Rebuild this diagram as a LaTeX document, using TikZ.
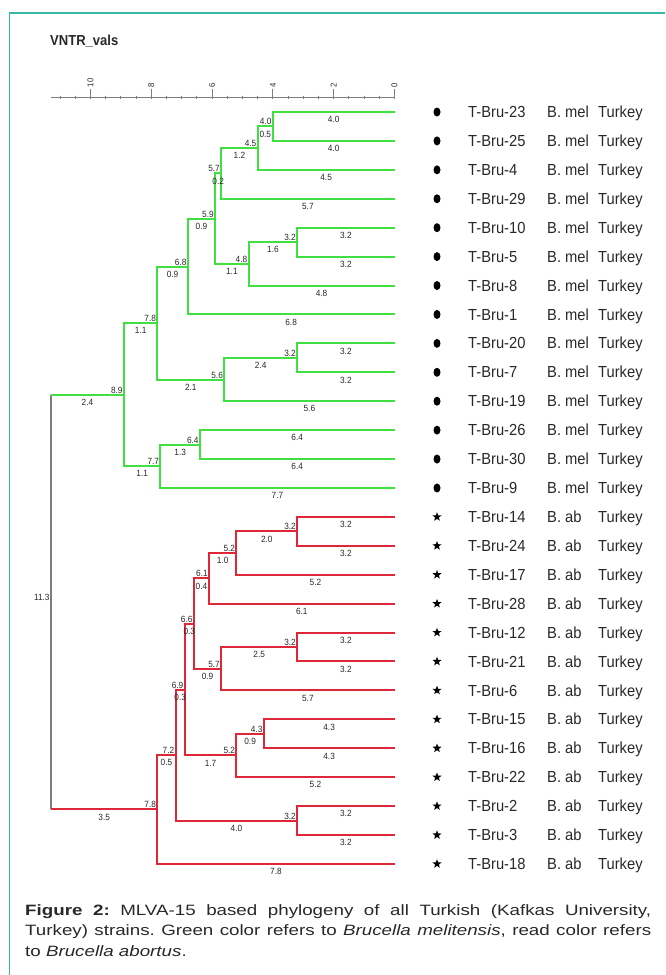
\documentclass[tikz,border=0pt]{standalone}
\usepackage{fontspec}
\setmainfont{Liberation Sans}
\newfontfamily\treefont[FakeStretch=0.92]{Liberation Sans}
\newfontfamily\titlefont[FakeStretch=0.9]{Liberation Sans}
\newfontfamily\capfont[FakeStretch=1.25]{Liberation Sans}
\usetikzlibrary{shapes.geometric}
\definecolor{clgreen}{RGB}{64,224,64}
\definecolor{clred}{RGB}{222,40,56}
\definecolor{rootgrey}{RGB}{125,125,125}
\definecolor{frameteal}{RGB}{56,184,164}
\definecolor{inkgrey}{RGB}{40,40,40}
% distance scale: 0 at x=394.5, 30.4 units per VNTR step; leaves 28.92 apart
\newcommand\hpos[1]{394.5-30.4*#1}
\newcommand\vpos[1]{112+28.92*#1}
\tikzset{
  gline/.style={draw=clgreen, line width=2pt},
  rline/.style={draw=clred, line width=2pt},
  rootline/.style={draw=rootgrey, line width=2pt},
  axisline/.style={draw=rootgrey, line width=0.9pt},
  blabel/.style={pos=0.75, anchor=north, yshift=-3.5pt, inner sep=0pt,
    text=inkgrey, font=\treefont\fontsize{9}{10}\selectfont},
  hlabel/.style={anchor=south east, inner sep=1.2pt,
    text=inkgrey, font=\treefont\fontsize{9}{10}\selectfont},
  ticklabel/.style={rotate=90, anchor=west, inner sep=0.5pt,
    text=inkgrey, font=\treefont\fontsize{8.5}{10}\selectfont},
  leaftext/.style={anchor=base west, inner sep=0pt, text=inkgrey,
    font=\treefont\fontsize{16}{18}\selectfont},
  dotmark/.style={ellipse, fill=black, draw=none, inner sep=0pt,
    minimum width=7pt, minimum height=9pt},
  starmark/.style={star, star points=5, star point ratio=2.4, fill=black,
    draw=none, inner sep=0pt, minimum size=9.5pt},
  capline/.style={anchor=base west, inner sep=0pt, text=inkgrey,
    font=\capfont\fontsize{15}{21}\selectfont\frenchspacing}
}
\begin{document}
\begin{tikzpicture}[x=1pt,y=-1pt]
\useasboundingbox (0,0) rectangle (665,975);

% frame
\draw[frameteal, line width=1.4pt] (9.3,975) -- (9.3,13) -- (665,13);

% title
\node[anchor=base west, inner sep=0pt, text=inkgrey] (title) at (50,45)
  {\titlefont\bfseries\fontsize{14.5}{16}\selectfont VNTR\_vals};

% distance axis
\coordinate (axL) at (50.5,97.5);
\coordinate (axR) at (394.5,97.5);
\draw[axisline] (axL) -- (axR);
\foreach \v in {0,0.5,...,11}
  \draw[axisline] ({\hpos{\v}},95.5) -- ({\hpos{\v}},99);
\foreach \v in {0,2,...,10} {
  \draw[axisline] ({\hpos{\v}},88.5) -- ({\hpos{\v}},97.5);
  \node[ticklabel] at ({\hpos{\v}},88) {\v};
}

% leaf tips
\foreach \i in {0,...,26}
  \coordinate (l\i) at (394.5,{\vpos{\i}});

% internal nodes: height / vertical position in leaf units
\foreach \n/\h/\k in {A/4.0/0.5, B/4.5/1.25, C/5.7/2.125, D/3.2/4.5,
    E/4.8/5.25, F/5.9/3.6875, G/6.8/5.34375, I/3.2/8.5, J/5.6/9.25,
    H/7.8/7.296875, K/6.4/11.5, L/7.7/12.25, M/8.9/9.7734375,
    N/3.2/14.5, O/5.2/15.25, P/6.1/16.125, Q/3.2/18.5, R/5.7/19.25,
    S/6.6/17.6875, T/4.3/21.5, U/5.2/22.25, V/6.9/19.96875, W/3.2/24.5,
    X/7.2/22.234375, Y/7.8/24.1171875, root/11.3/16.9453125}
  \coordinate (\n) at ({\hpos{\h}},{\vpos{\k}});

% root
\draw[rootline] (root|-M) -- (root|-Y);
\draw[gline] (root|-M) -- (M) node[blabel, pos=0.5] {2.4};
\draw[rline] (root|-Y) -- (Y) node[blabel, pos=0.5] {3.5};
\node[hlabel, anchor=east] at ([yshift=5pt]root) {11.3};

% B. melitensis clade
\foreach \p/\c/\t in {A/l0/4.0, A/l1/4.0, B/A/0.5, B/l2/4.5, C/B/1.2,
    C/l3/5.7, D/l4/3.2, D/l5/3.2, E/D/1.6, E/l6/4.8, F/C/0.2, F/E/1.1,
    G/F/0.9, G/l7/6.8, I/l8/3.2, I/l9/3.2, J/I/2.4, J/l10/5.6, H/G/0.9,
    H/J/2.1, K/l11/6.4, K/l12/6.4, L/K/1.3, L/l13/7.7, M/H/1.1, M/L/1.1}
  \draw[gline] (\p) |- (\c) node[blabel] {\t};

% B. abortus clade
\foreach \p/\c/\t in {N/l14/3.2, N/l15/3.2, O/N/2.0, O/l16/5.2, P/O/1.0,
    P/l17/6.1, Q/l18/3.2, Q/l19/3.2, R/Q/2.5, R/l20/5.7, S/P/0.4, S/R/0.9,
    T/l21/4.3, T/l22/4.3, U/T/0.9, U/l23/5.2, V/S/0.3, V/U/1.7,
    W/l24/3.2, W/l25/3.2, X/V/0.3, X/W/4.0, Y/X/0.5, Y/l26/7.8}
  \draw[rline] (\p) |- (\c) node[blabel] {\t};

% node heights
\foreach \n/\t in {A/4.0, B/4.5, C/5.7, D/3.2, E/4.8, F/5.9, G/6.8, I/3.2,
    J/5.6, H/7.8, K/6.4, L/7.7, M/8.9, N/3.2, O/5.2, P/6.1, Q/3.2, R/5.7,
    S/6.6, T/4.3, U/5.2, V/6.9, W/3.2, X/7.2, Y/7.8}
  \node[hlabel] at (\n) {\t};

% strain labels
\foreach \i/\id in {0/23, 1/25, 2/4, 3/29, 4/10, 5/5, 6/8, 7/1, 8/20,
    9/7, 10/19, 11/26, 12/30, 13/9} {
  \node[dotmark] (mk\i) at (437,{\vpos{\i}}) {};
  \node[leaftext] (id\i) at (468,{\vpos{\i}+5.6}) {T-Bru-\id};
  \node[leaftext] (sp\i) at (547,{\vpos{\i}+5.6}) {B. mel};
  \node[leaftext] (co\i) at (598,{\vpos{\i}+5.6}) {Turkey};
}
\foreach \i/\id in {14/14, 15/24, 16/17, 17/28, 18/12, 19/21, 20/6,
    21/15, 22/16, 23/22, 24/2, 25/3, 26/18} {
  \node[starmark] (mk\i) at (437,{\vpos{\i}}) {};
  \node[leaftext] (id\i) at (468,{\vpos{\i}+5.6}) {T-Bru-\id};
  \node[leaftext] (sp\i) at (547,{\vpos{\i}+5.6}) {B. ab};
  \node[leaftext] (co\i) at (598,{\vpos{\i}+5.6}) {Turkey};
}

% caption
\node[capline] (cap1) at (25,915) {\makebox[626pt][s]{\textbf{Figure 2:} MLVA-15 based phylogeny of all Turkish (Kafkas University,}};
\node[capline] (cap2) at (25,935.5) {\makebox[626pt][s]{Turkey) strains. Green color refers to \textit{Brucella melitensis}, read color refers}};
\node[capline] (cap3) at (25,956) {to \textit{Brucella abortus}.};
\end{tikzpicture}
\end{document}
